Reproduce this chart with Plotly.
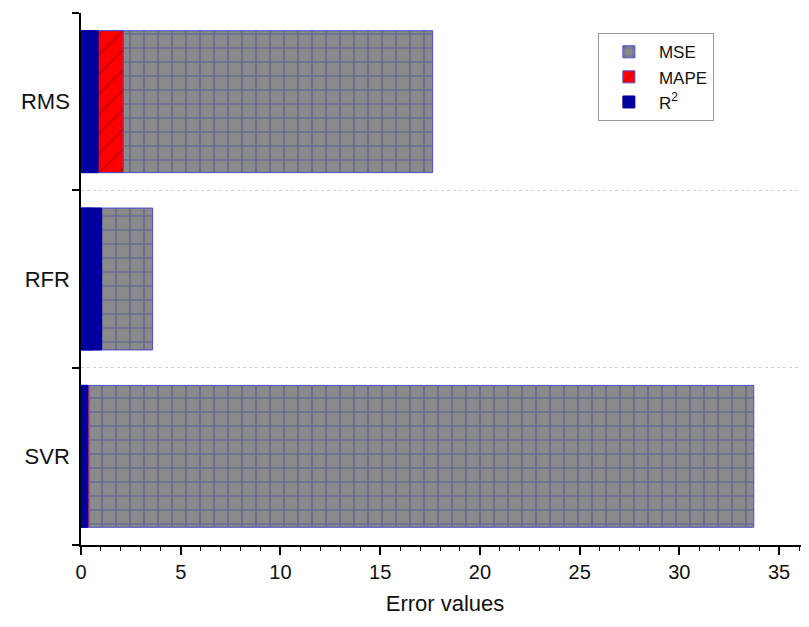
import plotly.graph_objects as go

models = ["SVR", "RFR", "RMS"]
mse = [33.73, 3.59, 17.63]
mape = [0.4, 0.6, 2.12]
r2 = [0.33, 1.03, 0.86]

x_ticks = [0, 5, 10, 15, 20, 25, 30, 35]

fig = go.Figure()
fig.add_trace(go.Bar(
    y=models, x=mse, orientation="h", name="MSE",
    marker=dict(color="#8a8a8a", line=dict(color="#4a4ad0", width=1),
                pattern=dict(shape="+", fgcolor="#2c2ca8", bgcolor="#8a8a8a",
                             size=14, solidity=0.16)),
))
fig.add_trace(go.Bar(
    y=models, x=mape, orientation="h", name="MAPE",
    marker=dict(color="#ff0000", line=dict(color="#4a4ad0", width=1),
                pattern=dict(shape="/", fgcolor="#8b0000", bgcolor="#ff0000",
                             size=14, solidity=0.12)),
))
fig.add_trace(go.Bar(
    y=models, x=r2, orientation="h", name="R<sup>2</sup>",
    marker=dict(color="#00009c", line=dict(color="#00009c", width=1)),
))

fig.update_layout(
    barmode="overlay",
    bargap=0.2,
    width=801, height=619,
    margin=dict(l=73, r=0, t=5, b=82, autoexpand=False),
    paper_bgcolor="white", plot_bgcolor="white",
    font=dict(family="Liberation Sans, Arial, sans-serif", color="#222"),
    legend=dict(x=0.71, y=0.962, xanchor="left", yanchor="top",
                bgcolor="white", bordercolor="#999", borderwidth=1,
                font=dict(size=17, color="#111"), traceorder="normal",
                tracegroupgap=0, itemwidth=50),
    showlegend=True,
)
fig.update_xaxes(
    range=[0, 36.5], tickvals=x_ticks, ticktext=[str(v) for v in x_ticks],
    showline=True, linecolor="black", linewidth=1.5,
    ticks="outside", ticklen=8, tickwidth=1.5, tickcolor="black",
    minor=dict(dtick=1, ticks="outside", ticklen=4, tickwidth=1, tickcolor="black", showgrid=False),
    showgrid=False, zeroline=False, automargin=False,
    tickfont=dict(size=20, color="#111"),
    title=dict(text="Error values", font=dict(size=22, color="#111"), standoff=14),
)
fig.update_yaxes(
    categoryorder="array", categoryarray=models,
    range=[-0.5, 2.5], automargin=False,
    tickson="boundaries", ticks="outside", ticklen=7, tickwidth=1.5, tickcolor="black",
    ticklabelstandoff=5,
    showline=True, linecolor="black", linewidth=1.5,
    showgrid=True, gridcolor="#d0d0d0", griddash="dot", gridwidth=1,
    zeroline=False,
    tickfont=dict(size=22, color="#111"),
)

fig.write_html("out.html")
